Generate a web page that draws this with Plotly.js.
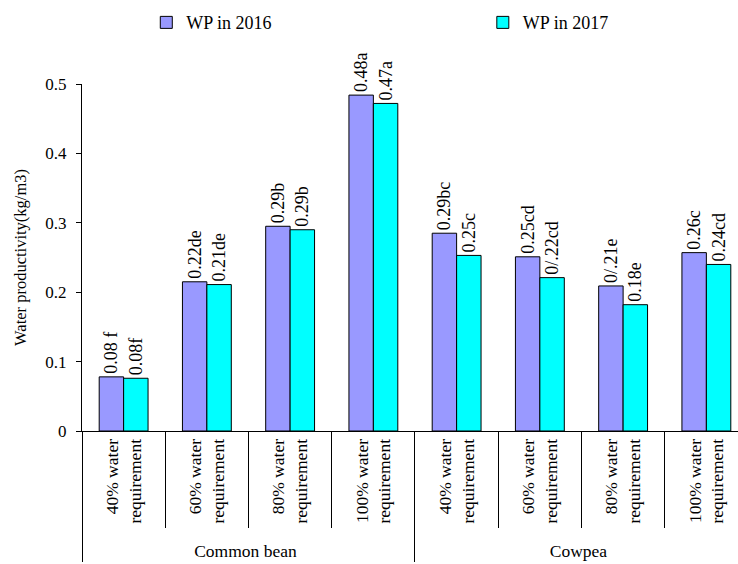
<!DOCTYPE html>
<html>
<head>
<meta charset="utf-8">
<script src="https://cdn.plot.ly/plotly-3.0.1.min.js"></script>
<style>html,body{margin:0;padding:0;background:#fff;overflow:hidden;}</style>
</head>
<body>
<div id="chart" style="width:738px;height:564px;"></div>
<script>
const groups = ["Common bean","Common bean","Common bean","Common bean","Cowpea","Cowpea","Cowpea","Cowpea"];
const treatments = ["40% water<br>requirement","60% water<br>requirement","80% water<br>requirement","100% water<br>requirement",
                    "40% water<br>requirement","60% water<br>requirement","80% water<br>requirement","100% water<br>requirement"];
const wp2016 = [0.078, 0.215, 0.295, 0.484, 0.285, 0.251, 0.209, 0.257];
const wp2017 = [0.076, 0.211, 0.290, 0.472, 0.253, 0.221, 0.182, 0.240];
const labels2016 = ["0.08 f","0.22de","0.29b","0.48a","0.29bc","0.25cd","0/.21e","0.26c"];
const labels2017 = ["0.08f","0.21de","0.29b","0.47a","0.25c","0/.22cd","0.18e","0.24cd"];
const yTicks = [0, 0.1, 0.2, 0.3, 0.4, 0.5];
const yTickText = ["0","0.1","0.2","0.3","0.4","0.5"];

const serif = "Liberation Serif";

const traces = [
  {
    type: "bar", name: "WP in 2016", legend: "legend",
    x: [groups, treatments], y: wp2016,
    text: labels2016, textposition: "outside", textangle: -90,
    textfont: {family: serif, size: 18, color: "#000"},
    constraintext: "none", cliponaxis: false,
    marker: {color: "#9999FF", line: {color: "#000", width: 1}}
  },
  {
    type: "bar", name: "WP in 2017", legend: "legend2",
    x: [groups, treatments], y: wp2017,
    text: labels2017, textposition: "outside", textangle: -90,
    textfont: {family: serif, size: 18, color: "#000"},
    constraintext: "none", cliponaxis: false,
    marker: {color: "#00FFFF", line: {color: "#000", width: 1}}
  }
];

const legendBase = {
  orientation: "h", xanchor: "left", y: 1.23, yanchor: "top",
  font: {family: serif, size: 18, color: "#000"},
  bgcolor: "rgba(0,0,0,0)"
};

const layout = {
  width: 738, height: 564,
  margin: {l: 82, r: 0, t: 84, b: 133},
  paper_bgcolor: "#fff", plot_bgcolor: "#fff",
  font: {family: serif, size: 17, color: "#000"},
  barmode: "group", bargap: 0.413, bargroupgap: 0,
  showlegend: true,
  legend: Object.assign({}, legendBase, {x: 0.098}),
  legend2: Object.assign({}, legendBase, {x: 0.611}),
  xaxis: {
    type: "multicategory",
    range: [-0.5, 7.38],
    showline: true, linecolor: "#000", linewidth: 1,
    showgrid: false, zeroline: false,
    tickson: "boundaries", ticks: "outside", ticklen: 96, tickcolor: "#000", tickwidth: 1,
    tickangle: -90,
    showdividers: true, dividercolor: "#000", dividerwidth: 1,
    tickfont: {family: serif, size: 17.5, color: "#000"}
  },
  yaxis: {
    range: [0, 0.5],
    tickvals: yTicks, ticktext: yTickText,
    showline: true, linecolor: "#000", linewidth: 1,
    showgrid: false, zeroline: false,
    ticks: "outside", ticklen: 5, tickcolor: "#000",
    ticklabelstandoff: 6,
    tickfont: {family: serif, size: 17, color: "#000"},
    title: {text: "Water productivity(kg/m3)", font: {family: serif, size: 16.5, color: "#000"}, standoff: 14}
  }
};

Plotly.newPlot("chart", traces, layout, {displayModeBar: false, staticPlot: true});
</script>
</body>
</html>
